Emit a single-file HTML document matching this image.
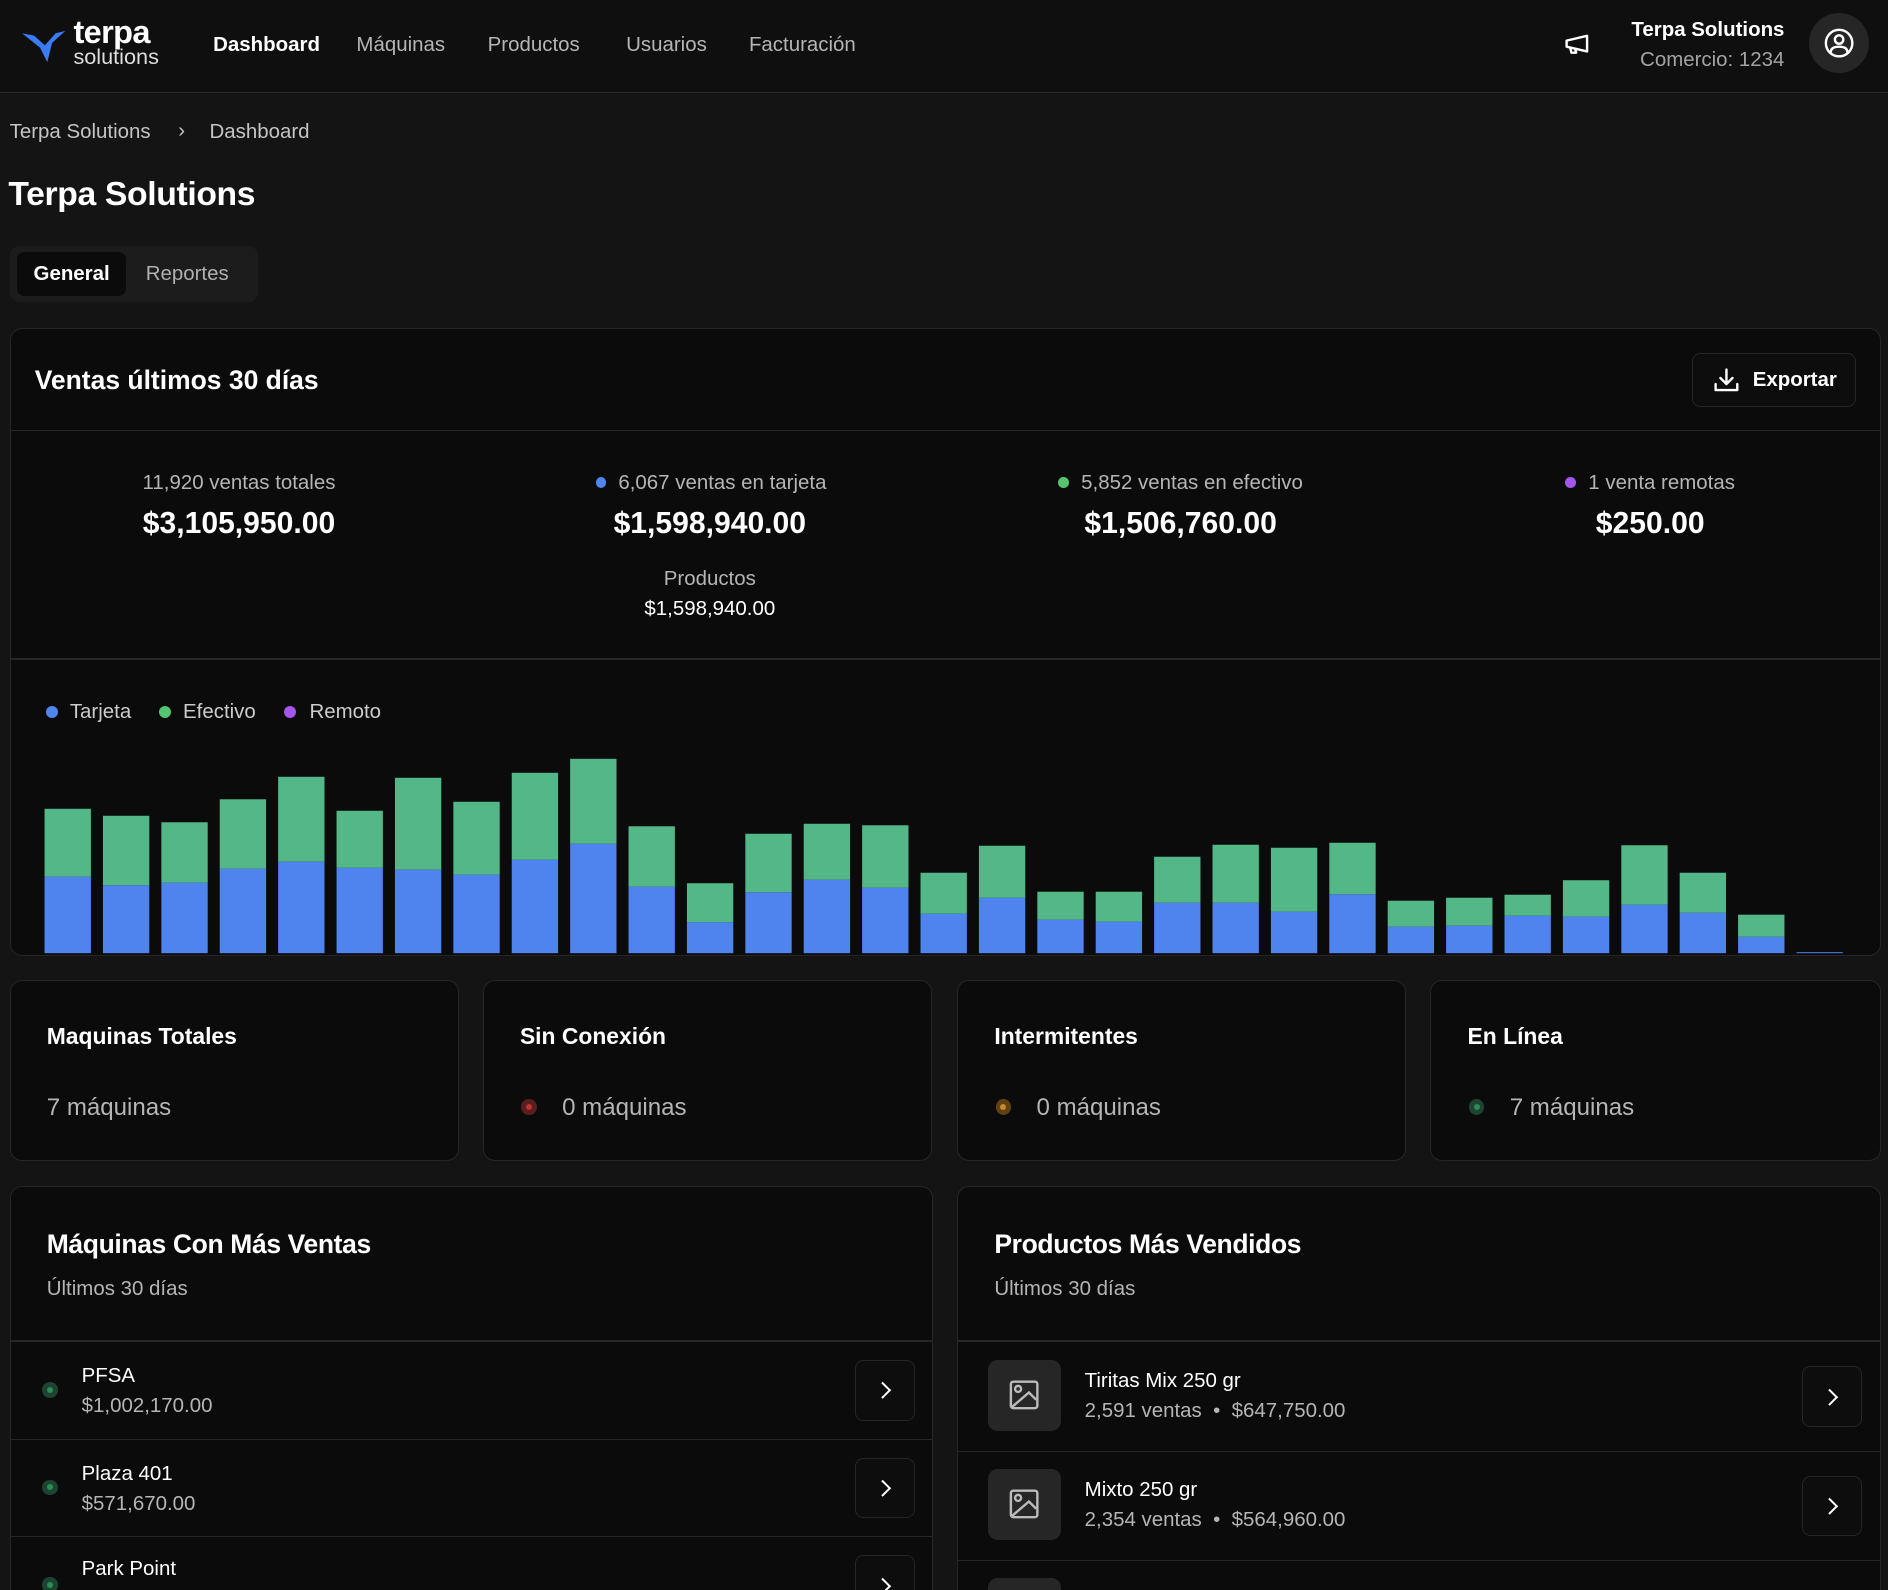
<!DOCTYPE html>
<html><head><meta charset="utf-8">
<style>
html,body{margin:0;padding:0;background:#141414;overflow:hidden;}
body{width:1888px;height:1590px;}
#z{zoom:1.20408;width:1568px;height:1321px;position:relative;font-family:"Liberation Sans",sans-serif;color:#fff;overflow:hidden;}
.a{position:absolute;white-space:nowrap;}
.card{position:absolute;background:#0b0b0b;border:1px solid #262626;border-radius:10px;box-sizing:border-box;overflow:hidden;}
.g{color:#a3a3a3;}
.btn{position:absolute;border:1px solid #262626;border-radius:7px;background:#0d0d0d;box-sizing:border-box;}
.chev{position:absolute;left:50%;top:50%;width:8px;height:8px;border-right:2px solid #fff;border-top:2px solid #fff;transform:translate(-70%,-50%) rotate(45deg);}
.dot{position:absolute;border-radius:50%;}
</style></head><body>
<div id="z">
<!-- header -->
<div class="a" style="left:0;top:0;width:1568px;height:76px;background:#0f0f0f;border-bottom:1px solid #2a2a2a;"></div>
<svg class="a" style="left:18px;top:22px" width="38" height="30" viewBox="0 0 38 30"><path d="M0 6 L10 8 L19 16 L28 6 L36 4 L25 14 L21 30 L15 18 Z" fill="#3b7bf6"/></svg>
<div class="a" style="left:61px;top:13px;font-weight:bold;font-size:27px;line-height:27px;letter-spacing:-0.5px;">terpa</div>
<div class="a" style="left:61px;top:38px;font-size:18px;line-height:18px;color:#ddd;">solutions</div>
<div class="a" style="left:177px;top:27px;font-size:17px;font-weight:bold;">Dashboard</div>
<div class="a g" style="left:296px;top:27px;font-size:17px;color:#b5b5b5;">Máquinas</div>
<div class="a g" style="left:405px;top:27px;font-size:17px;color:#b5b5b5;">Productos</div>
<div class="a g" style="left:520px;top:27px;font-size:17px;color:#b5b5b5;">Usuarios</div>
<div class="a g" style="left:622px;top:27px;font-size:17px;color:#b5b5b5;">Facturación</div>
<svg class="a" style="left:1298px;top:26px" width="24" height="22" viewBox="0 0 24 22"><path d="M3 8 L20 4 L20 17 L3 13 Z M6 14 L7 18 L11 18 L10 15" fill="none" stroke="#fff" stroke-width="2" stroke-linejoin="round"/></svg>
<div class="a" style="right:86px;top:15px;font-size:17px;font-weight:bold;">Terpa Solutions</div>
<div class="a g" style="right:86px;top:40px;font-size:17px;">Comercio: 1234</div>
<div class="a" style="left:1502px;top:11px;width:50px;height:50px;border-radius:50%;background:#262626;">
<svg width="50" height="50" viewBox="0 0 50 50"><circle cx="25" cy="25" r="11" fill="none" stroke="#fff" stroke-width="2"/><circle cx="25" cy="22" r="3.5" fill="none" stroke="#fff" stroke-width="2"/><path d="M18 33 Q18 28 25 28 Q32 28 32 33" fill="none" stroke="#fff" stroke-width="2"/></svg></div>
<!-- breadcrumb -->
<div class="a" style="left:8px;top:100px;font-size:17px;color:#c4c4c4;">Terpa Solutions</div>
<div class="a" style="left:148px;top:99px;font-size:17px;color:#c4c4c4;">›</div>
<div class="a" style="left:174px;top:100px;font-size:17px;color:#c4c4c4;">Dashboard</div>
<div class="a" style="left:7px;top:145px;font-size:28px;font-weight:bold;letter-spacing:-0.3px;">Terpa Solutions</div>
<div class="a" style="left:8px;top:204px;width:206px;height:47px;background:#1c1c1c;border-radius:8px;"></div>
<div class="a" style="left:14px;top:209px;width:91px;height:37px;background:#0b0b0b;border-radius:6px;font-size:17px;font-weight:bold;line-height:37px;text-align:center;">General</div>
<div class="a" style="left:121px;top:218px;font-size:17px;color:#b0b0b0;">Reportes</div>
<!-- sales card -->
<div class="card" style="left:8px;top:272px;width:1554px;height:522px;">
 <div class="a" style="left:20px;top:30px;font-size:22px;font-weight:bold;">Ventas últimos 30 días</div>
 <div class="btn" style="left:1396px;top:20px;width:137px;height:45px;">
  <svg class="a" style="left:16px;top:10px" width="24" height="24" viewBox="0 0 24 24"><path d="M12 3 V15 M7 10 L12 15 L17 10 M3 15 V20 H21 V15" fill="none" stroke="#fff" stroke-width="2" stroke-linecap="round" stroke-linejoin="round"/></svg>
  <div class="a" style="left:50px;top:12px;font-size:17px;font-weight:bold;">Exportar</div></div>
 <div class="a" style="left:0;top:84px;width:1554px;height:1px;background:#262626;"></div>
 <div class="a" style="left:0;top:274px;width:1554px;height:1px;background:#262626;"></div>
</div>
<div class="a g" style="left:8px;width:381px;text-align:center;top:391px;font-size:17px;color:#b5b5b5;">11,920 ventas totales</div>
<div class="a" style="left:8px;width:381px;text-align:center;top:421px;font-size:25px;font-weight:bold;">$3,105,950.00</div>
<div class="a g" style="left:400px;width:381px;text-align:center;top:391px;font-size:17px;color:#b5b5b5;"><span style="display:inline-block;width:9px;height:9px;border-radius:50%;background:#4f86ee;margin-right:10px;vertical-align:1px"></span>6,067 ventas en tarjeta</div>
<div class="a" style="left:399px;width:381px;text-align:center;top:421px;font-size:25px;font-weight:bold;">$1,598,940.00</div>
<div class="a g" style="left:399px;width:381px;text-align:center;top:471px;font-size:17px;color:#b5b5b5;">Productos</div>
<div class="a" style="left:399px;width:381px;text-align:center;top:496px;font-size:17px;">$1,598,940.00</div>
<div class="a g" style="left:790px;width:381px;text-align:center;top:391px;font-size:17px;color:#b5b5b5;"><span style="display:inline-block;width:9px;height:9px;border-radius:50%;background:#55c46e;margin-right:10px;vertical-align:1px"></span>5,852 ventas en efectivo</div>
<div class="a" style="left:790px;width:381px;text-align:center;top:421px;font-size:25px;font-weight:bold;">$1,506,760.00</div>
<div class="a g" style="left:1180px;width:381px;text-align:center;top:391px;font-size:17px;color:#b5b5b5;"><span style="display:inline-block;width:9px;height:9px;border-radius:50%;background:#a355ee;margin-right:10px;vertical-align:1px"></span>1 venta remotas</div>
<div class="a" style="left:1180px;width:381px;text-align:center;top:421px;font-size:25px;font-weight:bold;">$250.00</div>
<!-- legend -->
<div class="dot" style="left:38px;top:586px;width:10px;height:10px;background:#4f86ee"></div>
<div class="a" style="left:58px;top:581px;font-size:17px;color:#ccc;">Tarjeta</div>
<div class="dot" style="left:132px;top:586px;width:10px;height:10px;background:#55c46e"></div>
<div class="a" style="left:152px;top:581px;font-size:17px;color:#ccc;">Efectivo</div>
<div class="dot" style="left:236px;top:586px;width:10px;height:10px;background:#a355ee"></div>
<div class="a" style="left:257px;top:581px;font-size:17px;color:#ccc;">Remoto</div>
<svg id="chart" class="a" style="left:0;top:600px" width="1568" height="193"></svg>
<!-- machine status cards -->
<div class="card" style="left:8px;top:814px;width:373px;height:150px;"><div class="a" style="left:30px;top:35px;font-size:19px;font-weight:bold;">Maquinas Totales</div><div class="a" style="left:30px;top:94px;font-size:20px;color:#b5b5b5;">7 máquinas</div></div>
<div class="card" style="left:401px;top:814px;width:373px;height:150px;"><div class="a" style="left:30px;top:35px;font-size:19px;font-weight:bold;">Sin Conexión</div><div class="dot" style="left:31px;top:98px;width:13px;height:13px;background:#5a1d1d"><div class="dot" style="left:4px;top:4px;width:5px;height:5px;background:#b33"></div></div><div class="a" style="left:65px;top:94px;font-size:20px;color:#b5b5b5;">0 máquinas</div></div>
<div class="card" style="left:795px;top:814px;width:373px;height:150px;"><div class="a" style="left:30px;top:35px;font-size:19px;font-weight:bold;">Intermitentes</div><div class="dot" style="left:31px;top:98px;width:13px;height:13px;background:#5e4214"><div class="dot" style="left:4px;top:4px;width:5px;height:5px;background:#c88a2a"></div></div><div class="a" style="left:65px;top:94px;font-size:20px;color:#b5b5b5;">0 máquinas</div></div>
<div class="card" style="left:1188px;top:814px;width:374px;height:150px;"><div class="a" style="left:30px;top:35px;font-size:19px;font-weight:bold;">En Línea</div><div class="dot" style="left:31px;top:98px;width:13px;height:13px;background:#1c4430"><div class="dot" style="left:4px;top:4px;width:5px;height:5px;background:#2f8a5a"></div></div><div class="a" style="left:65px;top:94px;font-size:20px;color:#b5b5b5;">7 máquinas</div></div>
<!-- top machines -->
<div class="card" style="left:8px;top:985px;width:767px;height:400px;">
 <div class="a" style="left:30px;top:35px;font-size:22px;font-weight:bold;letter-spacing:-0.3px;">Máquinas Con Más Ventas</div>
 <div class="a" style="left:30px;top:75px;font-size:17px;color:#b5b5b5;">Últimos 30 días</div>
 <div class="a" style="left:0;top:127px;width:767px;height:2px;background:#262626"></div>
 <div class="a" style="left:0;top:129px;width:767px;height:80px;border-bottom:1px solid #262626;">
  <div class="dot" style="left:26px;top:33px;width:13px;height:13px;background:#1c4430"><div class="dot" style="left:4px;top:4px;width:5px;height:5px;background:#2f8a5a"></div></div>
  <div class="a" style="left:59px;top:18px;font-size:17px;">PFSA</div><div class="a" style="left:59px;top:43px;font-size:17px;color:#b5b5b5;">$1,002,170.00</div>
  <div class="btn" style="left:701px;top:15px;width:50px;height:50px;"><div class="chev"></div></div></div>
 <div class="a" style="left:0;top:210px;width:767px;height:80px;border-bottom:1px solid #262626;">
  <div class="dot" style="left:26px;top:33px;width:13px;height:13px;background:#1c4430"><div class="dot" style="left:4px;top:4px;width:5px;height:5px;background:#2f8a5a"></div></div>
  <div class="a" style="left:59px;top:18px;font-size:17px;">Plaza 401</div><div class="a" style="left:59px;top:43px;font-size:17px;color:#b5b5b5;">$571,670.00</div>
  <div class="btn" style="left:701px;top:15px;width:50px;height:50px;"><div class="chev"></div></div></div>
 <div class="a" style="left:0;top:291px;width:767px;height:80px;">
  <div class="dot" style="left:26px;top:33px;width:13px;height:13px;background:#1c4430"><div class="dot" style="left:4px;top:4px;width:5px;height:5px;background:#2f8a5a"></div></div>
  <div class="a" style="left:59px;top:16px;font-size:17px;">Park Point</div>
  <div class="btn" style="left:701px;top:15px;width:50px;height:50px;"><div class="chev"></div></div></div>
</div>
<!-- top products -->
<div class="card" style="left:795px;top:985px;width:767px;height:400px;">
 <div class="a" style="left:30px;top:35px;font-size:22px;font-weight:bold;letter-spacing:-0.3px;">Productos Más Vendidos</div>
 <div class="a" style="left:30px;top:75px;font-size:17px;color:#b5b5b5;">Últimos 30 días</div>
 <div class="a" style="left:0;top:127px;width:767px;height:2px;background:#262626"></div>
 <div class="a" style="left:0;top:129px;width:767px;height:90px;border-bottom:1px solid #262626;">
  <div class="a" style="left:25px;top:15px;width:60px;height:59px;border-radius:8px;background:#262626"><svg width="60" height="59" viewBox="0 0 60 59"><rect x="19" y="18" width="22" height="22" rx="2" fill="none" stroke="#bbb" stroke-width="2"/><circle cx="25" cy="24" r="2.5" fill="none" stroke="#bbb" stroke-width="2"/><path d="M20 39 L34 27 L40 33" fill="none" stroke="#bbb" stroke-width="2"/></svg></div>
  <div class="a" style="left:105px;top:22px;font-size:17px;">Tiritas Mix 250 gr</div><div class="a" style="left:105px;top:47px;font-size:17px;color:#b5b5b5;">2,591 ventas &nbsp;•&nbsp; $647,750.00</div>
  <div class="btn" style="left:701px;top:20px;width:50px;height:50px;"><div class="chev"></div></div></div>
 <div class="a" style="left:0;top:220px;width:767px;height:90px;border-bottom:1px solid #262626;">
  <div class="a" style="left:25px;top:14px;width:60px;height:59px;border-radius:8px;background:#262626"><svg width="60" height="59" viewBox="0 0 60 59"><rect x="19" y="18" width="22" height="22" rx="2" fill="none" stroke="#bbb" stroke-width="2"/><circle cx="25" cy="24" r="2.5" fill="none" stroke="#bbb" stroke-width="2"/><path d="M20 39 L34 27 L40 33" fill="none" stroke="#bbb" stroke-width="2"/></svg></div>
  <div class="a" style="left:105px;top:22px;font-size:17px;">Mixto 250 gr</div><div class="a" style="left:105px;top:47px;font-size:17px;color:#b5b5b5;">2,354 ventas &nbsp;•&nbsp; $564,960.00</div>
  <div class="btn" style="left:701px;top:20px;width:50px;height:50px;"><div class="chev"></div></div></div>
 <div class="a" style="left:25px;top:325px;width:60px;height:59px;border-radius:8px;background:#262626"></div>
</div>
</div>
<script>
const days = ["1","2","3","4","5","6","7","8","9","10","11","12","13","14","15","16","17","18","19","20","21","22","23","24","25","26","27","28","29","30","31"];
const tarjeta = [153,136,141,169,183,171,167,157,187,219,133,62,122,147,131,79,111,67,63,101,101,83,118,53,55,75,73,97,81,33,2];
const efectivo = [136,139,121,139,170,114,184,146,174,170,121,78,117,112,125,82,104,56,60,92,116,128,103,52,56,42,73,119,80,44,0];
const remoto = [0,0,0,0,0,0,0,0,0,0,0,0,0,0,0,0,0,0,0,0,0,0,0,0,0,0,0,0,0,0,0];
(function(){
  const svg = document.getElementById('chart');
  const NS = 'http://www.w3.org/2000/svg';
  const baseY = 192, yMax = 400, plotH = 166;
  const x0 = 32, pitch = 48.5, barW = 38.5;
  const y = v => v / yMax * plotH;
  const xAt = i => x0 + i * pitch + (pitch - barW) / 2;
  days.forEach((d, i) => {
    let acc = 0;
    [[tarjeta, '#4f83ed', 'tarjeta'], [efectivo, '#53b788', 'efectivo'], [remoto, '#a355ee', 'remoto']].forEach(([arr, col, nm]) => {
      const h = y(arr[i]);
      if (h <= 0) return;
      const r = document.createElementNS(NS, 'rect');
      r.setAttribute('x', xAt(i));
      r.setAttribute('y', baseY - y(acc) - h);
      r.setAttribute('width', barW);
      r.setAttribute('height', h);
      r.setAttribute('fill', col);
      
      
      svg.appendChild(r);
      acc += arr[i];
    });
  });
})();
</script>
</body></html>
